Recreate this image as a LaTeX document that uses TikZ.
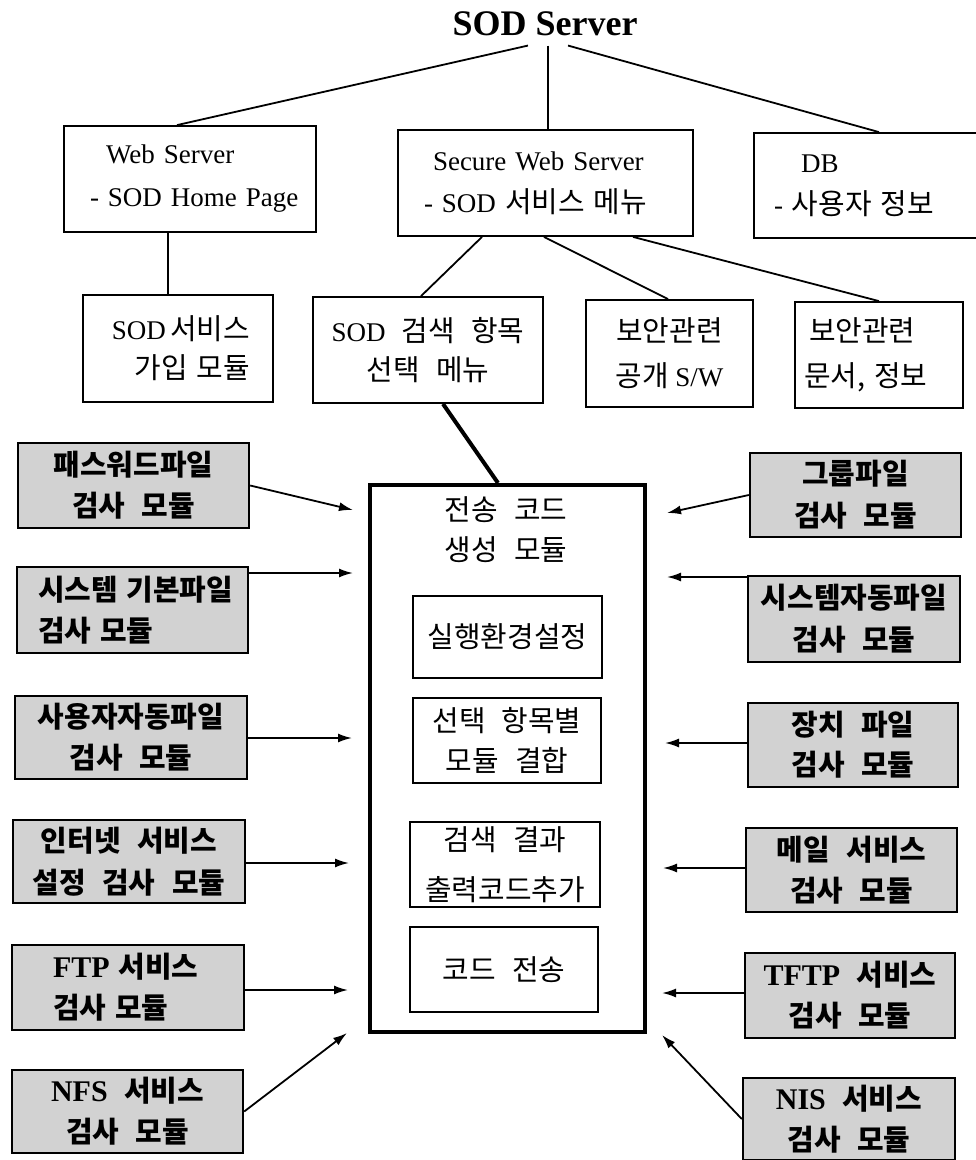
\documentclass[tikz,border=0pt]{standalone}
\usepackage{fontspec}
\setmainfont{Liberation Serif}
\newfontfamily\hanfont{Noto Sans CJK KR}[Scale=1.07,WordSpace=2.5]
\newcommand\hanr[1]{{\hanfont #1}}
\newcommand\hanb[1]{{\hanfont\bfseries #1}}
\newcommand\latb[1]{{\bfseries\fontsize{30pt}{41pt}\selectfont #1}}
\newcommand\fsz[1]{\fontsize{27pt}{#1pt}\selectfont}
\usetikzlibrary{arrows.meta}
\definecolor{grayfill}{RGB}{210,210,210}
\begin{document}
\begin{tikzpicture}[x=1pt,y=-1pt,
  wbox/.style={draw, line width=1.8pt, fill=white, inner ysep=0pt},
  gbox/.style={draw, line width=2.4pt, fill=grayfill, inner ysep=0pt, inner xsep=0pt, align=center, font=\fsz{41}},
  cbox/.style={draw, line width=4pt, fill=white, inner sep=0pt},
  ibox/.style={draw, line width=1.8pt, fill=white, inner sep=0pt, align=center, font=\fsz{40}},
  conn/.style={line width=1.8pt},
  thickconn/.style={line width=4pt},
  arr/.style={line width=1.8pt, -{Latex[length=14pt,width=9pt]}},
]
\path[fill=white] (0,0) rectangle (976,1160);
\useasboundingbox (0,0) rectangle (976,1160);

% title
\node[inner sep=10pt, anchor=base, font=\bfseries\fontsize{36pt}{40pt}\selectfont] (title) at (545,35) {SOD Server};

% first row
\node[wbox, text width=200pt, inner xsep=26pt, minimum height=106pt, align=left, font=\fsz{43}] (web) at (190,179)
  {\hspace*{16pt}Web Server\\\mbox{- SOD Home Page}};
\node[wbox, text width=243pt, inner xsep=26pt, minimum height=106pt, align=left, font=\fsz{42}] (secure) at (545.5,183)
  {\hspace*{9pt}Secure Web Server\\\mbox{- SOD\hanr{\ 서비스 메뉴}}};
\node[wbox, text width=191pt, inner xsep=20pt, minimum height=105pt, align=left, font=\fsz{42}] (db) at (869.5,185.5)
  {\hspace*{27pt}DB\\\mbox{- \hanr{사용자 정보}}};

% second row
\node[wbox, text width=144pt, inner xsep=23pt, minimum height=107pt, align=right, font=\fsz{39}] (sodsvc) at (178,348.5)
  {\mbox{SOD\,\hanr{서비스}}\\\hanr{가입 모듈}};
\node[wbox, minimum width=230pt, inner xsep=0pt, minimum height=106pt, align=center, font=\fsz{39}] (sodsearch) at (428,350)
  {\mbox{SOD\hanr{\ 검색 항목}}\\\hanr{선택 메뉴}};
\node[wbox, minimum width=167pt, inner xsep=0pt, minimum height=107pt, align=center, font=\fsz{45}] (pubsw) at (669.5,353.5)
  {\hanr{보안관련}\\\hanr{공개} S/W};
\node[wbox, text width=150pt, inner xsep=9pt, minimum height=106pt, align=left, font=\fsz{45}] (docs) at (879,355)
  {\hspace*{5pt}\hanr{보안관련}\\\mbox{\hanr{문서, 정보}}};

% central module
\node[cbox, minimum width=275pt, minimum height=547pt] (gen) at (507.5,758.5) {};
\node[inner sep=0pt, align=center, font=\fsz{40}] (gentxt) at (506,530) {\hanr{전송 코드}\\\hanr{생성 모듈}};
\node[ibox, minimum width=189pt, minimum height=82pt] (exec) at (507.5,637) {\hanr{실행환경설정}};
\node[ibox, minimum width=188pt, minimum height=85pt] (combine) at (507,740.5) {\hanr{선택 항목별}\\\hanr{모듈 결합}};
\node[ibox, minimum width=190pt, minimum height=85pt, font=\fsz{50}] (result) at (505,864.5) {\hanr{검색 결과}\\\hanr{출력코드추가}};
\node[ibox, minimum width=188pt, minimum height=85pt] (send) at (504,969.5) {\hanr{코드 전송}};

% left check modules
\node[gbox, minimum width=231pt, minimum height=85pt] (pass) at (133.5,485.5) {\hanb{패스워드파일}\\\hanb{검사 모듈}};
\node[gbox, text width=189pt, inner xsep=21pt, align=left, minimum height=86pt] (sysbase) at (132.5,610)
  {\mbox{\hanb{시스템 기본파일}}\\\hanb{검사 모듈}};
\node[gbox, minimum width=232pt, minimum height=83pt] (userauto) at (131,737.5) {\hanb{사용자자동파일}\\\hanb{검사 모듈}};
\node[gbox, minimum width=232pt, minimum height=83pt, font=\fsz{42}] (inet) at (129,861.5) {\hanb{인터넷 서비스}\\\hanb{설정 검사 모듈}};
\node[gbox, text width=150pt, inner xsep=41pt, align=left, minimum height=85pt] (ftp) at (128,987.5)
  {\mbox{\latb{FTP}\hanb{\ 서비스}}\\\hanb{검사 모듈}};
\node[gbox, minimum width=231pt, minimum height=83pt] (nfs) at (127.5,1111.5) {\latb{NFS}\hanb{\ 서비스}\\\hanb{검사 모듈}};

% right check modules
\node[gbox, minimum width=211pt, minimum height=84pt, font=\fsz{42}] (group) at (855.5,495) {\hanb{그룹파일}\\\hanb{검사 모듈}};
\node[gbox, minimum width=212pt, minimum height=86pt, font=\fsz{42}] (sysauto) at (854,619) {\hanb{시스템자동파일}\\\hanb{검사 모듈}};
\node[gbox, minimum width=210pt, minimum height=84pt, font=\fsz{40}] (device) at (853,745) {\hanb{장치 파일}\\\hanb{검사 모듈}};
\node[gbox, minimum width=211pt, minimum height=84pt] (mail) at (851.5,870) {\hanb{메일 서비스}\\\hanb{검사 모듈}};
\node[gbox, minimum width=210pt, minimum height=85pt] (tftp) at (850,995.5) {\latb{TFTP}\hanb{\ 서비스}\\\hanb{검사 모듈}};
\node[gbox, minimum width=212pt, minimum height=82pt] (nis) at (849,1119) {\latb{NIS}\hanb{\ 서비스}\\\hanb{검사 모듈}};

% connectors of the tree
\draw[conn] ([xshift=-17pt]title.south) -- ([xshift=-13pt]web.north);
\draw[conn] ([xshift=3pt]title.south) -- ([xshift=2.5pt]secure.north);
\draw[conn] ([xshift=23pt]title.south) -- ([xshift=9.5pt]db.north);
\draw[conn] ([xshift=-22pt]web.south) -- ([xshift=-10pt]sodsvc.north);
\draw[conn] ([xshift=-63.5pt]secure.south) -- ([xshift=-7pt]sodsearch.north);
\draw[conn] ([xshift=-1.5pt]secure.south) -- ([xshift=-1.5pt]pubsw.north);
\draw[conn] ([xshift=87.5pt]secure.south) -- (docs.north);
\draw[thickconn] ([xshift=15pt]sodsearch.south) -- ([xshift=-9.5pt]gen.north);

% arrow tips (free ends)
\coordinate (L1) at (353,510);
\coordinate (L2) at (353,573);
\coordinate (L3) at (352,738);
\coordinate (L4) at (349,863);
\coordinate (L5) at (348,990);
\coordinate (L6) at (347,1033);
\coordinate (R1) at (667,513);
\coordinate (R2) at (667,577);
\coordinate (R3) at (665,743);
\coordinate (R4) at (663,868);
\coordinate (R5) at (662,993);
\coordinate (R6) at (662,1035);

\draw[arr] (pass.east) -- (L1);
\draw[arr] (sysbase.east |- L2) -- (L2);
\draw[arr] (userauto.east |- L3) -- (L3);
\draw[arr] (inet.east |- L4) -- (L4);
\draw[arr] (ftp.east |- L5) -- (L5);
\draw[arr] (nfs.east) -- (L6);
\draw[arr] (group.west) -- (R1);
\draw[arr] (sysauto.west |- R2) -- (R2);
\draw[arr] (device.west |- R3) -- (R3);
\draw[arr] (mail.west |- R4) -- (R4);
\draw[arr] (tftp.west |- R5) -- (R5);
\draw[arr] (nis.west) -- (R6);
\end{tikzpicture}
\end{document}
